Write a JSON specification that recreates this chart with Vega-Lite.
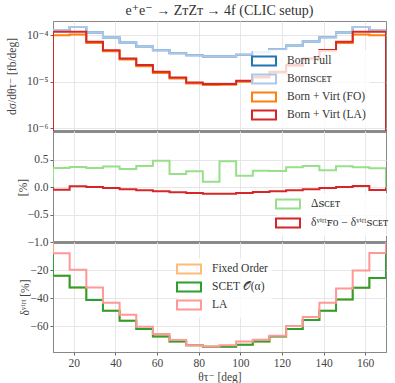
{
"$schema": "https://vega.github.io/schema/vega-lite/v6.json",
"padding": {"left": 5, "top": 3, "right": 5, "bottom": 4},
"spacing": 0,
"bounds": "flush",
"config": {
  "font": "Liberation Serif, DejaVu Serif, serif",
  "view": {"stroke": "#888", "strokeWidth": 1},
  "axis": {"labelFont": "Liberation Serif, DejaVu Serif, serif", "labelFontSize": 11.5, "labelColor": "#444", "titleFont": "Liberation Serif, DejaVu Serif, serif", "titleFontSize": 11.5, "titleFontWeight": "normal", "titleColor": "#444", "gridColor": "#e6e6e6", "domainColor": "#888", "tickColor": "#666", "tickSize": 3, "labelPadding": 2},
  "legend": {"labelFont": "Liberation Serif, DejaVu Serif, serif", "labelFontSize": 11.5, "labelColor": "#333", "symbolType": "M-2,-0.75H2V0.75H-2Z", "symbolSize": 144, "symbolStrokeWidth": 2, "symbolFillColor": "transparent", "fillColor": "rgba(255,255,255,0.8)", "padding": 4, "rowPadding": 0, "labelOffset": 16, "title": null, "symbolOpacity": 1}
},
"datasets": {
"top": [
{"s":"bf","x":10,"v":1e-7},{"s":"bf","x":10,"v":1.30e-4},{"s":"bf","x":18,"v":1.51e-4},{"s":"bf","x":26,"v":1.14e-4},{"s":"bf","x":34,"v":8.9e-5},{"s":"bf","x":42,"v":6.95e-5},{"s":"bf","x":50,"v":5.7e-5},{"s":"bf","x":58,"v":4.78e-5},{"s":"bf","x":66,"v":4.12e-5},{"s":"bf","x":74,"v":3.73e-5},{"s":"bf","x":82,"v":3.48e-5},{"s":"bf","x":90,"v":3.5e-5},{"s":"bf","x":98,"v":3.8e-5},{"s":"bf","x":106,"v":4.3e-5},{"s":"bf","x":114,"v":5.0e-5},{"s":"bf","x":122,"v":6.0e-5},{"s":"bf","x":130,"v":7.3e-5},{"s":"bf","x":138,"v":9.0e-5},{"s":"bf","x":146,"v":1.14e-4},{"s":"bf","x":154,"v":1.51e-4},{"s":"bf","x":162,"v":1.30e-4},{"s":"bf","x":170,"v":1.30e-4},{"s":"bf","x":170,"v":1e-7},
{"s":"bs","x":10,"v":1e-7},{"s":"bs","x":10,"v":1.30e-4},{"s":"bs","x":18,"v":1.51e-4},{"s":"bs","x":26,"v":1.14e-4},{"s":"bs","x":34,"v":8.9e-5},{"s":"bs","x":42,"v":6.95e-5},{"s":"bs","x":50,"v":5.7e-5},{"s":"bs","x":58,"v":4.78e-5},{"s":"bs","x":66,"v":4.12e-5},{"s":"bs","x":74,"v":3.73e-5},{"s":"bs","x":82,"v":3.48e-5},{"s":"bs","x":90,"v":3.5e-5},{"s":"bs","x":98,"v":3.8e-5},{"s":"bs","x":106,"v":4.3e-5},{"s":"bs","x":114,"v":5.0e-5},{"s":"bs","x":122,"v":6.0e-5},{"s":"bs","x":130,"v":7.3e-5},{"s":"bs","x":138,"v":9.0e-5},{"s":"bs","x":146,"v":1.14e-4},{"s":"bs","x":154,"v":1.51e-4},{"s":"bs","x":162,"v":1.30e-4},{"s":"bs","x":170,"v":1.30e-4},{"s":"bs","x":170,"v":1e-7},
{"s":"fo","x":10,"v":1e-7},{"s":"fo","x":10,"v":1.0e-4},{"s":"fo","x":18,"v":1.03e-4},{"s":"fo","x":26,"v":6.84e-5},{"s":"fo","x":34,"v":4.55e-5},{"s":"fo","x":42,"v":3.0e-5},{"s":"fo","x":50,"v":2.15e-5},{"s":"fo","x":58,"v":1.55e-5},{"s":"fo","x":66,"v":1.18e-5},{"s":"fo","x":74,"v":9.2e-6},{"s":"fo","x":82,"v":8.5e-6},{"s":"fo","x":90,"v":8.6e-6},{"s":"fo","x":98,"v":1.0e-5},{"s":"fo","x":106,"v":1.22e-5},{"s":"fo","x":114,"v":1.56e-5},{"s":"fo","x":122,"v":2.18e-5},{"s":"fo","x":130,"v":3.05e-5},{"s":"fo","x":138,"v":4.55e-5},{"s":"fo","x":146,"v":6.84e-5},{"s":"fo","x":154,"v":1.03e-4},{"s":"fo","x":162,"v":1.0e-4},{"s":"fo","x":170,"v":1.0e-4},{"s":"fo","x":170,"v":1e-7},
{"s":"la","x":10,"v":1e-7},{"s":"la","x":10,"v":1.18e-4},{"s":"la","x":18,"v":1.18e-4},{"s":"la","x":26,"v":7.2e-5},{"s":"la","x":34,"v":4.78e-5},{"s":"la","x":42,"v":3.16e-5},{"s":"la","x":50,"v":2.28e-5},{"s":"la","x":58,"v":1.64e-5},{"s":"la","x":66,"v":1.24e-5},{"s":"la","x":74,"v":9.66e-6},{"s":"la","x":82,"v":8.93e-6},{"s":"la","x":90,"v":9.0e-6},{"s":"la","x":98,"v":1.05e-5},{"s":"la","x":106,"v":1.28e-5},{"s":"la","x":114,"v":1.65e-5},{"s":"la","x":122,"v":2.3e-5},{"s":"la","x":130,"v":3.2e-5},{"s":"la","x":138,"v":4.8e-5},{"s":"la","x":146,"v":7.2e-5},{"s":"la","x":154,"v":1.18e-4},{"s":"la","x":162,"v":1.18e-4},{"s":"la","x":170,"v":1.18e-4},{"s":"la","x":170,"v":1e-7}
],
"mid": [
{"s":"d","x":10,"v":0},{"s":"d","x":10,"v":0.355},{"s":"d","x":18,"v":0.373},{"s":"d","x":26,"v":0.355},{"s":"d","x":34,"v":0.38},{"s":"d","x":42,"v":0.335},{"s":"d","x":50,"v":0.39},{"s":"d","x":58,"v":0.485},{"s":"d","x":66,"v":0.245},{"s":"d","x":74,"v":0.295},{"s":"d","x":82,"v":0.10},{"s":"d","x":90,"v":0.478},{"s":"d","x":98,"v":0.21},{"s":"d","x":106,"v":0.305},{"s":"d","x":114,"v":0.30},{"s":"d","x":122,"v":0.368},{"s":"d","x":130,"v":0.39},{"s":"d","x":138,"v":0.31},{"s":"d","x":146,"v":0.385},{"s":"d","x":154,"v":0.368},{"s":"d","x":162,"v":0.35},{"s":"d","x":170,"v":0.35},{"s":"d","x":170,"v":0},
{"s":"r","x":10,"v":0},{"s":"r","x":10,"v":-0.043},{"s":"r","x":18,"v":0.018},{"s":"r","x":26,"v":0.006},{"s":"r","x":34,"v":-0.012},{"s":"r","x":42,"v":-0.037},{"s":"r","x":50,"v":-0.055},{"s":"r","x":58,"v":-0.074},{"s":"r","x":66,"v":-0.092},{"s":"r","x":74,"v":-0.104},{"s":"r","x":82,"v":-0.117},{"s":"r","x":90,"v":-0.117},{"s":"r","x":98,"v":-0.104},{"s":"r","x":106,"v":-0.086},{"s":"r","x":114,"v":-0.074},{"s":"r","x":122,"v":-0.055},{"s":"r","x":130,"v":-0.037},{"s":"r","x":138,"v":-0.012},{"s":"r","x":146,"v":0.006},{"s":"r","x":154,"v":0.025},{"s":"r","x":162,"v":-0.049},{"s":"r","x":170,"v":-0.049},{"s":"r","x":170,"v":0}
],
"bot": [
{"s":"fo","x":10,"v":0},{"s":"fo","x":10,"v":-24.1},{"s":"fo","x":18,"v":-32.4},{"s":"fo","x":26,"v":-41.4},{"s":"fo","x":34,"v":-49},{"s":"fo","x":42,"v":-56.2},{"s":"fo","x":50,"v":-62.1},{"s":"fo","x":58,"v":-67.4},{"s":"fo","x":66,"v":-71},{"s":"fo","x":74,"v":-73.6},{"s":"fo","x":82,"v":-74.8},{"s":"fo","x":90,"v":-74.8},{"s":"fo","x":98,"v":-73.4},{"s":"fo","x":106,"v":-71},{"s":"fo","x":114,"v":-67.4},{"s":"fo","x":122,"v":-62},{"s":"fo","x":130,"v":-55.7},{"s":"fo","x":138,"v":-49},{"s":"fo","x":146,"v":-41},{"s":"fo","x":154,"v":-32.6},{"s":"fo","x":162,"v":-25.7},{"s":"fo","x":170,"v":-25.7},{"s":"fo","x":170,"v":0},
{"s":"sc","x":10,"v":0},{"s":"sc","x":10,"v":-24.1},{"s":"sc","x":18,"v":-32.4},{"s":"sc","x":26,"v":-41.4},{"s":"sc","x":34,"v":-49},{"s":"sc","x":42,"v":-56.2},{"s":"sc","x":50,"v":-62.1},{"s":"sc","x":58,"v":-67.4},{"s":"sc","x":66,"v":-71},{"s":"sc","x":74,"v":-73.6},{"s":"sc","x":82,"v":-74.8},{"s":"sc","x":90,"v":-74.8},{"s":"sc","x":98,"v":-73.4},{"s":"sc","x":106,"v":-71},{"s":"sc","x":114,"v":-67.4},{"s":"sc","x":122,"v":-62},{"s":"sc","x":130,"v":-55.7},{"s":"sc","x":138,"v":-49},{"s":"sc","x":146,"v":-41},{"s":"sc","x":154,"v":-32.6},{"s":"sc","x":162,"v":-25.7},{"s":"sc","x":170,"v":-25.7},{"s":"sc","x":170,"v":0},
{"s":"la","x":10,"v":0},{"s":"la","x":10,"v":-8.1},{"s":"la","x":18,"v":-19.8},{"s":"la","x":26,"v":-32.4},{"s":"la","x":34,"v":-43.4},{"s":"la","x":42,"v":-51.9},{"s":"la","x":50,"v":-60.5},{"s":"la","x":58,"v":-65.7},{"s":"la","x":66,"v":-70},{"s":"la","x":74,"v":-73.6},{"s":"la","x":82,"v":-74.5},{"s":"la","x":90,"v":-73.6},{"s":"la","x":98,"v":-71},{"s":"la","x":106,"v":-69.7},{"s":"la","x":114,"v":-66.9},{"s":"la","x":122,"v":-60},{"s":"la","x":130,"v":-53.6},{"s":"la","x":138,"v":-43.4},{"s":"la","x":146,"v":-33.1},{"s":"la","x":154,"v":-20.4},{"s":"la","x":162,"v":-7.9},{"s":"la","x":170,"v":-7.9},{"s":"la","x":170,"v":0}
]
},
"vconcat": [
{
 "title": {"text": "e⁺e⁻ → ZᴛZᴛ → 4f (CLIC setup)", "font": "Liberation Serif, DejaVu Serif, serif", "fontSize": 14, "fontWeight": "normal", "color": "#333", "frame": "group", "anchor": "middle", "offset": 3},
 "width": 333, "height": 110,
 "data": {"name": "top"},
 "mark": {"type": "line", "interpolate": "step-after", "strokeWidth": 2, "clip": true},
 "encoding": {
  "x": {"field": "x", "type": "quantitative", "scale": {"domain": [10, 170], "nice": false, "zero": false}, "axis": {"values": [20,40,60,80,100,120,140,160], "labels": false, "title": null, "domainWidth": 2.5, "domainColor": "#666"}},
  "y": {"field": "v", "type": "quantitative", "scale": {"type": "log", "domain": [8.75e-7, 2.02e-4], "nice": false}, "axis": {"values": [1e-6, 1e-5, 1e-4], "labelExpr": "datum.value > 5e-5 ? '10⁻⁴' : datum.value > 5e-6 ? '10⁻⁵' : '10⁻⁶'", "title": "dσ/dθτ⁻ [fb/deg]", "titleX": -41, "titleY": 55, "titleAngle": -90, "titleAlign": "center", "titleBaseline": "middle"}},
  "color": {"field": "s", "type": "nominal", "scale": {"domain": ["bf", "bs", "fo", "la"], "range": ["#1f77b4", "#aec7e8", "#ff7f0e", "#d62728"]}, "legend": {"orient": "none", "legendX": 200, "legendY": 29, "labelExpr": "datum.value == 'bf' ? 'Born Full' : datum.value == 'bs' ? 'Bornꜱᴄᴇᴛ' : datum.value == 'fo' ? 'Born + Virt (FO)' : 'Born + Virt (LA)'"}}
 }
},
{
 "width": 333, "height": 111,
 "data": {"name": "mid"},
 "mark": {"type": "line", "interpolate": "step-after", "strokeWidth": 2, "clip": true},
 "encoding": {
  "x": {"field": "x", "type": "quantitative", "scale": {"domain": [10, 170], "nice": false, "zero": false}, "axis": {"values": [20,40,60,80,100,120,140,160], "labels": false, "title": null, "domainWidth": 2.5, "domainColor": "#666"}},
  "y": {"field": "v", "type": "quantitative", "scale": {"domain": [-1, 1.03], "nice": false, "zero": false}, "axis": {"values": [-1, -0.5, 0, 0.5], "format": ".1f", "title": "[%]", "titleX": -30, "titleY": 56, "titleAngle": -90, "titleAlign": "center", "titleBaseline": "middle"}},
  "color": {"field": "s", "type": "nominal", "scale": {"domain": ["d", "r"], "range": ["#98df8a", "#d62728"]}, "legend": {"orient": "none", "legendX": 224, "legendY": 62, "rowPadding": 1, "labelExpr": "datum.value == 'd' ? 'Δꜱᴄᴇᴛ' : 'δᵛⁱʳᵗꜰᴏ − δᵛⁱʳᵗꜱᴄᴇᴛ'"}}
 }
},
{
 "width": 333, "height": 110,
 "data": {"name": "bot"},
 "mark": {"type": "line", "interpolate": "step-after", "strokeWidth": 2, "clip": true},
 "encoding": {
  "x": {"field": "x", "type": "quantitative", "scale": {"domain": [10, 170], "nice": false, "zero": false}, "axis": {"values": [20,40,60,80,100,120,140,160], "title": "θτ⁻ [deg]", "titlePadding": 3}},
  "y": {"field": "v", "type": "quantitative", "scale": {"domain": [-78.5, 0], "nice": false, "zero": false}, "axis": {"values": [-60, -40, -20], "title": "δᵛⁱʳᵗ [%]", "titleX": -28, "titleY": 55, "titleAngle": -90, "titleAlign": "center", "titleBaseline": "middle"}},
  "color": {"field": "s", "type": "nominal", "scale": {"domain": ["fo", "sc", "la"], "range": ["#ffbb78", "#2ca02c", "#ff9896"]}, "legend": {"orient": "none", "legendX": 125, "legendY": 16, "labelExpr": "datum.value == 'fo' ? 'Fixed Order' : datum.value == 'sc' ? 'SCET 𝒪(α)' : 'LA'"}}
 }
}
],
"resolve": {"scale": {"color": "independent", "y": "independent"}, "legend": {"color": "independent"}}
}
